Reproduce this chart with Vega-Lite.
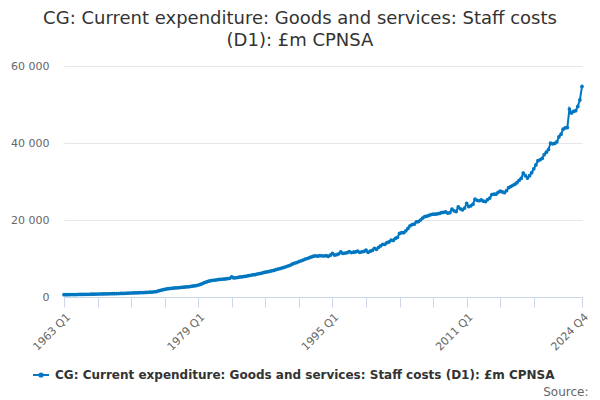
{
  "$schema": "https://vega.github.io/schema/vega-lite/v6.json",
  "autosize": {"type": "none"},
  "width": 518,
  "height": 231,
  "padding": {"left": 64, "top": 66, "right": 18, "bottom": 103},
  "background": "white",
  "title": {
    "text": ["CG: Current expenditure: Goods and services: Staff costs", "(D1): £m CPNSA"],
    "anchor": "middle",
    "dx": -23,
    "fontSize": 18,
    "fontWeight": "normal",
    "color": "#333333",
    "offset": 10,
    "lineHeight": 22
  },
  "data": {
    "values": [
      {"q": "1963 Q1", "v": 600}, {"q": "1963 Q2", "v": 610}, {"q": "1963 Q3", "v": 615}, {"q": "1963 Q4", "v": 620},
      {"q": "1964 Q1", "v": 630}, {"q": "1964 Q2", "v": 640}, {"q": "1964 Q3", "v": 645}, {"q": "1964 Q4", "v": 655},
      {"q": "1965 Q1", "v": 665}, {"q": "1965 Q2", "v": 675}, {"q": "1965 Q3", "v": 685}, {"q": "1965 Q4", "v": 695},
      {"q": "1966 Q1", "v": 710}, {"q": "1966 Q2", "v": 720}, {"q": "1966 Q3", "v": 735}, {"q": "1966 Q4", "v": 750},
      {"q": "1967 Q1", "v": 770}, {"q": "1967 Q2", "v": 780}, {"q": "1967 Q3", "v": 795}, {"q": "1967 Q4", "v": 805},
      {"q": "1968 Q1", "v": 820}, {"q": "1968 Q2", "v": 830}, {"q": "1968 Q3", "v": 845}, {"q": "1968 Q4", "v": 855},
      {"q": "1969 Q1", "v": 870}, {"q": "1969 Q2", "v": 885}, {"q": "1969 Q3", "v": 900}, {"q": "1969 Q4", "v": 915},
      {"q": "1970 Q1", "v": 935}, {"q": "1970 Q2", "v": 960}, {"q": "1970 Q3", "v": 990}, {"q": "1970 Q4", "v": 1010},
      {"q": "1971 Q1", "v": 1040}, {"q": "1971 Q2", "v": 1060}, {"q": "1971 Q3", "v": 1080}, {"q": "1971 Q4", "v": 1100},
      {"q": "1972 Q1", "v": 1120}, {"q": "1972 Q2", "v": 1140}, {"q": "1972 Q3", "v": 1165}, {"q": "1972 Q4", "v": 1185},
      {"q": "1973 Q1", "v": 1210}, {"q": "1973 Q2", "v": 1240}, {"q": "1973 Q3", "v": 1290}, {"q": "1973 Q4", "v": 1340},
      {"q": "1974 Q1", "v": 1420}, {"q": "1974 Q2", "v": 1560}, {"q": "1974 Q3", "v": 1750}, {"q": "1974 Q4", "v": 1880},
      {"q": "1975 Q1", "v": 2000}, {"q": "1975 Q2", "v": 2100}, {"q": "1975 Q3", "v": 2180}, {"q": "1975 Q4", "v": 2230},
      {"q": "1976 Q1", "v": 2290}, {"q": "1976 Q2", "v": 2340}, {"q": "1976 Q3", "v": 2400}, {"q": "1976 Q4", "v": 2450},
      {"q": "1977 Q1", "v": 2500}, {"q": "1977 Q2", "v": 2560}, {"q": "1977 Q3", "v": 2620}, {"q": "1977 Q4", "v": 2660},
      {"q": "1978 Q1", "v": 2720}, {"q": "1978 Q2", "v": 2800}, {"q": "1978 Q3", "v": 2880}, {"q": "1978 Q4", "v": 2960},
      {"q": "1979 Q1", "v": 3100}, {"q": "1979 Q2", "v": 3250}, {"q": "1979 Q3", "v": 3500}, {"q": "1979 Q4", "v": 3750},
      {"q": "1980 Q1", "v": 3900}, {"q": "1980 Q2", "v": 4100}, {"q": "1980 Q3", "v": 4250}, {"q": "1980 Q4", "v": 4350},
      {"q": "1981 Q1", "v": 4400}, {"q": "1981 Q2", "v": 4450}, {"q": "1981 Q3", "v": 4550}, {"q": "1981 Q4", "v": 4600},
      {"q": "1982 Q1", "v": 4650}, {"q": "1982 Q2", "v": 4700}, {"q": "1982 Q3", "v": 4800}, {"q": "1982 Q4", "v": 4850},
      {"q": "1983 Q1", "v": 5250}, {"q": "1983 Q2", "v": 4950}, {"q": "1983 Q3", "v": 5000}, {"q": "1983 Q4", "v": 5100},
      {"q": "1984 Q1", "v": 5200}, {"q": "1984 Q2", "v": 5250}, {"q": "1984 Q3", "v": 5350}, {"q": "1984 Q4", "v": 5450},
      {"q": "1985 Q1", "v": 5550}, {"q": "1985 Q2", "v": 5650}, {"q": "1985 Q3", "v": 5750}, {"q": "1985 Q4", "v": 5800},
      {"q": "1986 Q1", "v": 5950}, {"q": "1986 Q2", "v": 6050}, {"q": "1986 Q3", "v": 6150}, {"q": "1986 Q4", "v": 6300},
      {"q": "1987 Q1", "v": 6450}, {"q": "1987 Q2", "v": 6550}, {"q": "1987 Q3", "v": 6650}, {"q": "1987 Q4", "v": 6800},
      {"q": "1988 Q1", "v": 6900}, {"q": "1988 Q2", "v": 7100}, {"q": "1988 Q3", "v": 7250}, {"q": "1988 Q4", "v": 7400},
      {"q": "1989 Q1", "v": 7550}, {"q": "1989 Q2", "v": 7700}, {"q": "1989 Q3", "v": 7900}, {"q": "1989 Q4", "v": 8100},
      {"q": "1990 Q1", "v": 8300}, {"q": "1990 Q2", "v": 8600}, {"q": "1990 Q3", "v": 8800}, {"q": "1990 Q4", "v": 8950},
      {"q": "1991 Q1", "v": 9200}, {"q": "1991 Q2", "v": 9400}, {"q": "1991 Q3", "v": 9600}, {"q": "1991 Q4", "v": 9850},
      {"q": "1992 Q1", "v": 10000}, {"q": "1992 Q2", "v": 10200}, {"q": "1992 Q3", "v": 10400}, {"q": "1992 Q4", "v": 10600},
      {"q": "1993 Q1", "v": 10700}, {"q": "1993 Q2", "v": 10600}, {"q": "1993 Q3", "v": 10750}, {"q": "1993 Q4", "v": 10700},
      {"q": "1994 Q1", "v": 10650}, {"q": "1994 Q2", "v": 10750}, {"q": "1994 Q3", "v": 10550}, {"q": "1994 Q4", "v": 10850},
      {"q": "1995 Q1", "v": 11300}, {"q": "1995 Q2", "v": 10900}, {"q": "1995 Q3", "v": 11000}, {"q": "1995 Q4", "v": 11200},
      {"q": "1996 Q1", "v": 11700}, {"q": "1996 Q2", "v": 11300}, {"q": "1996 Q3", "v": 11400}, {"q": "1996 Q4", "v": 11500},
      {"q": "1997 Q1", "v": 11800}, {"q": "1997 Q2", "v": 11550}, {"q": "1997 Q3", "v": 11650}, {"q": "1997 Q4", "v": 11700},
      {"q": "1998 Q1", "v": 11900}, {"q": "1998 Q2", "v": 11600}, {"q": "1998 Q3", "v": 11750}, {"q": "1998 Q4", "v": 11850},
      {"q": "1999 Q1", "v": 12200}, {"q": "1999 Q2", "v": 11600}, {"q": "1999 Q3", "v": 11900}, {"q": "1999 Q4", "v": 12100},
      {"q": "2000 Q1", "v": 12600}, {"q": "2000 Q2", "v": 12400}, {"q": "2000 Q3", "v": 12900}, {"q": "2000 Q4", "v": 13300},
      {"q": "2001 Q1", "v": 13700}, {"q": "2001 Q2", "v": 13700}, {"q": "2001 Q3", "v": 14100}, {"q": "2001 Q4", "v": 14300},
      {"q": "2002 Q1", "v": 14800}, {"q": "2002 Q2", "v": 14700}, {"q": "2002 Q3", "v": 15200}, {"q": "2002 Q4", "v": 15500},
      {"q": "2003 Q1", "v": 16500}, {"q": "2003 Q2", "v": 16700}, {"q": "2003 Q3", "v": 16700}, {"q": "2003 Q4", "v": 17200},
      {"q": "2004 Q1", "v": 17800}, {"q": "2004 Q2", "v": 18500}, {"q": "2004 Q3", "v": 18800}, {"q": "2004 Q4", "v": 18900},
      {"q": "2005 Q1", "v": 19500}, {"q": "2005 Q2", "v": 19600}, {"q": "2005 Q3", "v": 20000}, {"q": "2005 Q4", "v": 20500},
      {"q": "2006 Q1", "v": 20900}, {"q": "2006 Q2", "v": 21000}, {"q": "2006 Q3", "v": 21200}, {"q": "2006 Q4", "v": 21400},
      {"q": "2007 Q1", "v": 21500}, {"q": "2007 Q2", "v": 21500}, {"q": "2007 Q3", "v": 21600}, {"q": "2007 Q4", "v": 21700},
      {"q": "2008 Q1", "v": 21900}, {"q": "2008 Q2", "v": 22000}, {"q": "2008 Q3", "v": 22100}, {"q": "2008 Q4", "v": 21800},
      {"q": "2009 Q1", "v": 21900}, {"q": "2009 Q2", "v": 22850}, {"q": "2009 Q3", "v": 22400}, {"q": "2009 Q4", "v": 22200},
      {"q": "2010 Q1", "v": 23400}, {"q": "2010 Q2", "v": 22900}, {"q": "2010 Q3", "v": 22650}, {"q": "2010 Q4", "v": 23100},
      {"q": "2011 Q1", "v": 24300}, {"q": "2011 Q2", "v": 23500}, {"q": "2011 Q3", "v": 23700}, {"q": "2011 Q4", "v": 24100},
      {"q": "2012 Q1", "v": 25400}, {"q": "2012 Q2", "v": 25100}, {"q": "2012 Q3", "v": 25000}, {"q": "2012 Q4", "v": 25200},
      {"q": "2013 Q1", "v": 24900}, {"q": "2013 Q2", "v": 24800}, {"q": "2013 Q3", "v": 25300}, {"q": "2013 Q4", "v": 25700},
      {"q": "2014 Q1", "v": 26600}, {"q": "2014 Q2", "v": 26700}, {"q": "2014 Q3", "v": 26700}, {"q": "2014 Q4", "v": 27200},
      {"q": "2015 Q1", "v": 27500}, {"q": "2015 Q2", "v": 27300}, {"q": "2015 Q3", "v": 27100}, {"q": "2015 Q4", "v": 27600},
      {"q": "2016 Q1", "v": 28400}, {"q": "2016 Q2", "v": 28700}, {"q": "2016 Q3", "v": 29000}, {"q": "2016 Q4", "v": 29300},
      {"q": "2017 Q1", "v": 29700}, {"q": "2017 Q2", "v": 30300}, {"q": "2017 Q3", "v": 30800}, {"q": "2017 Q4", "v": 32200},
      {"q": "2018 Q1", "v": 31500}, {"q": "2018 Q2", "v": 30900}, {"q": "2018 Q3", "v": 31500}, {"q": "2018 Q4", "v": 32300},
      {"q": "2019 Q1", "v": 33300}, {"q": "2019 Q2", "v": 34300}, {"q": "2019 Q3", "v": 35400}, {"q": "2019 Q4", "v": 35650},
      {"q": "2020 Q1", "v": 36000}, {"q": "2020 Q2", "v": 37000}, {"q": "2020 Q3", "v": 37600}, {"q": "2020 Q4", "v": 38300},
      {"q": "2021 Q1", "v": 40000}, {"q": "2021 Q2", "v": 39800}, {"q": "2021 Q3", "v": 39900}, {"q": "2021 Q4", "v": 40300},
      {"q": "2022 Q1", "v": 41600}, {"q": "2022 Q2", "v": 42300}, {"q": "2022 Q3", "v": 43600}, {"q": "2022 Q4", "v": 43900},
      {"q": "2023 Q1", "v": 44000}, {"q": "2023 Q2", "v": 48800}, {"q": "2023 Q3", "v": 47800}, {"q": "2023 Q4", "v": 48200},
      {"q": "2024 Q1", "v": 48400}, {"q": "2024 Q2", "v": 49500}, {"q": "2024 Q3", "v": 51200}, {"q": "2024 Q4", "v": 54700}
    ]
  },
  "mark": {
    "type": "line",
    "strokeWidth": 2,
    "point": {"filled": true, "size": 14}
  },
  "encoding": {
    "x": {
      "field": "q",
      "type": "ordinal",
      "scale": {"type": "point", "padding": 0},
      "axis": {
        "values": ["1963 Q1", "1967 Q1", "1971 Q1", "1975 Q1", "1979 Q1", "1983 Q1", "1987 Q1", "1991 Q1", "1995 Q1", "1999 Q1", "2003 Q1", "2007 Q1", "2011 Q1", "2015 Q1", "2019 Q1", "2024 Q4"],
        "labelExpr": "indexof(['1963 Q1', '1979 Q1', '1995 Q1', '2011 Q1', '2024 Q4'], datum.value) >= 0 ? datum.value : ''",
        "labelAngle": -45,
        "labelOverlap": false,
        "labelFontSize": 11,
        "labelColor": "#666666",
        "labelPadding": 4,
        "domainColor": "#ccd6eb",
        "tickColor": "#ccd6eb",
        "tickSize": 10,
        "grid": false,
        "title": "Source:",
        "titleX": 524,
        "titleY": 94,
        "titleAlign": "right",
        "titleBaseline": "middle",
        "titleAnchor": null,
        "titleFontSize": 12,
        "titleFontWeight": "normal",
        "titleColor": "#666666"
      }
    },
    "y": {
      "field": "v",
      "type": "quantitative",
      "scale": {"domain": [0, 60000], "nice": false},
      "axis": {
        "values": [0, 20000, 40000, 60000],
        "labelExpr": "replace(format(datum.value, ','), ',', ' ')",
        "labelFontSize": 11,
        "labelColor": "#666666",
        "labelPadding": 15,
        "domain": false,
        "ticks": false,
        "gridColor": "#e6e6e6",
        "title": null
      }
    },
    "color": {
      "datum": "CG: Current expenditure: Goods and services: Staff costs (D1): £m CPNSA",
      "scale": {"range": ["#0077c0"]},
      "legend": {
        "orient": "none",
        "legendX": -32,
        "legendY": 300,
        "title": null,
        "padding": 0,
        "symbolType": "M-1,0L1,0M-0.2,0a0.2,0.2 0 1,0 0.4,0a0.2,0.2 0 1,0 -0.4,0",
        "symbolSize": 256,
        "symbolStrokeWidth": 2,
        "labelFontSize": 12,
        "labelFontWeight": "bold",
        "labelColor": "#333333",
        "labelOffset": 5,
        "labelLimit": 600
      }
    }
  },
  "config": {
    "font": "DejaVu Sans",
    "view": {"stroke": null}
  }
}
